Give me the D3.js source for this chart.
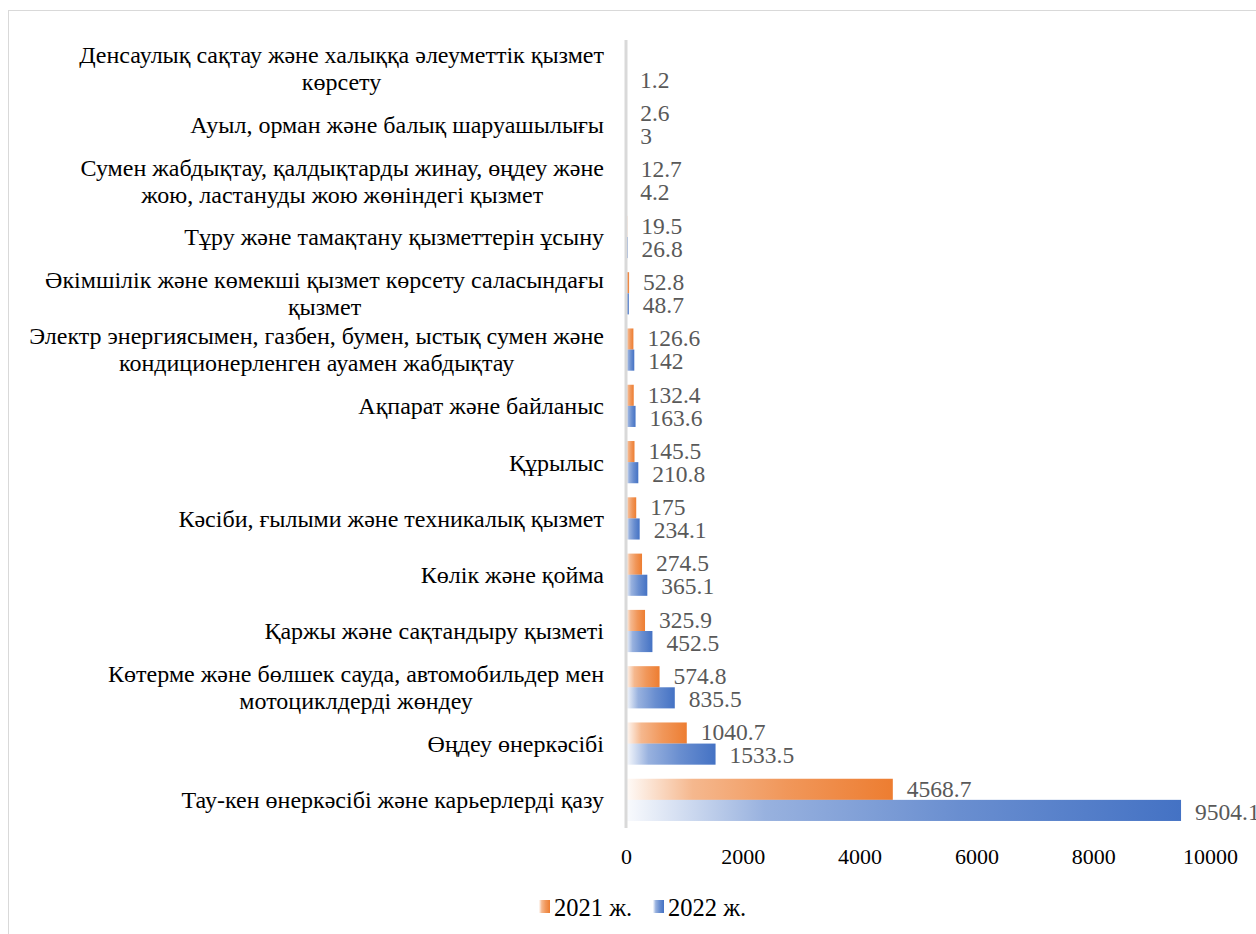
<!DOCTYPE html>
<html>
<head>
<meta charset="UTF-8" />
<title>Chart</title>
<style>
  body { margin: 0; background: #fff; }
</style>
</head>
<body>
<div class="chart"></div>
<script src="https://d3js.org/d3.v7.min.js"></script>
<script>
// categories, top to bottom ("\n" = line break in the label)
const categories = [
  'Денсаулық сақтау және халыққа әлеуметтік қызмет\nкөрсету',
  'Ауыл, орман және балық шаруашылығы',
  'Сумен жабдықтау, қалдықтарды жинау, өңдеу және\nжою, ластануды жою жөніндегі қызмет',
  'Тұру және тамақтану қызметтерін ұсыну',
  'Әкімшілік және көмекші қызмет көрсету саласындағы\nқызмет',
  'Электр энергиясымен, газбен, бумен, ыстық сумен және\nкондиционерленген ауамен жабдықтау',
  'Ақпарат және байланыс',
  'Құрылыс',
  'Кәсіби, ғылыми және техникалық қызмет',
  'Көлік және қойма',
  'Қаржы және сақтандыру қызметі',
  'Көтерме және бөлшек сауда, автомобильдер мен\nмотоциклдерді жөндеу',
  'Өңдеу өнеркәсібі',
  'Тау-кен өнеркәсібі және карьерлерді қазу'
]
const values2021 = [null, 2.6, 12.7, 19.5, 52.8, 126.6, 132.4, 145.5, 175, 274.5, 325.9, 574.8, 1040.7, 4568.7]
const values2022 = [1.2, 3, 4.2, 26.8, 48.7, 142, 163.6, 210.8, 234.1, 365.1, 452.5, 835.5, 1533.5, 9504.1]
const seriesNames = ['2021 ж.', '2022 ж.']
const xTicks = [0, 2000, 4000, 6000, 8000, 10000]

const width = 1256, height = 934
const colors = ['#ED7D31', '#4472C4']
const serif = 'Liberation Serif'

const svg = d3.select('.chart').append('svg')
  .attr('width', width).attr('height', height)
  .attr('font-family', serif)

// gradients like the office "light gradient" fill
const defs = svg.append('defs')
colors.forEach((c, i) => {
  const g = defs.append('linearGradient').attr('id', 'grad' + i)
    .attr('x1', '0%').attr('x2', '100%').attr('y1', '0%').attr('y2', '0%')
  g.append('stop').attr('offset', '0%').attr('stop-color', c).attr('stop-opacity', 0.03)
  g.append('stop').attr('offset', '25%').attr('stop-color', c).attr('stop-opacity', 0.55)
  g.append('stop').attr('offset', '60%').attr('stop-color', c).attr('stop-opacity', 0.8)
  g.append('stop').attr('offset', '100%').attr('stop-color', c).attr('stop-opacity', 1)
})

// outer frame
svg.append('rect')
  .attr('x', 8.5).attr('y', 10.5)
  .attr('width', 1270).attr('height', 940)
  .attr('fill', 'none').attr('stroke', '#d9d9d9')

const x = d3.scaleLinear().domain([0, 10000]).range([626, 1210])
const y = d3.scaleBand().domain(categories).range([40, 828])
  .paddingInner(0.25).paddingOuter(0.125)
const ySub = d3.scaleBand().domain([0, 1]).range([0, y.bandwidth()])

const data = categories.map((c, i) => ({ cat: c, vals: [values2021[i], values2022[i]] }))

const groups = svg.append('g').selectAll('g')
  .data(data).join('g')
  .attr('transform', d => `translate(0,${y(d.cat)})`)

groups.selectAll('rect')
  .data(d => d.vals.map((v, s) => ({ v, s })).filter(e => e.v != null))
  .join('rect')
  .attr('x', x(0))
  .attr('y', e => ySub(e.s))
  .attr('width', e => x(e.v) - x(0))
  .attr('height', ySub.bandwidth())
  .attr('fill', e => `url(#grad${e.s})`)

groups.selectAll('text.val')
  .data(d => d.vals.map((v, s) => ({ v, s })).filter(e => e.v != null))
  .join('text')
  .attr('class', 'val')
  .attr('x', e => x(e.v) + 14)
  .attr('y', e => ySub(e.s) + ySub.bandwidth() / 2 + (e.s === 0 ? -1 : 1))
  .attr('dy', '0.35em')
  .attr('fill', '#595959')
  .attr('font-family', serif)
  .attr('font-size', 23.5)
  .text(e => e.v)

// vertical axis line
svg.append('line')
  .attr('x1', x(0)).attr('x2', x(0))
  .attr('y1', 40).attr('y2', 828)
  .attr('stroke', '#d9d9d9').attr('stroke-width', 3)

// category labels: block right-aligned, lines centered inside
const labelRight = 604, lineH = 27
categories.forEach(c => {
  const lines = c.split('\n')
  const t = svg.append('text')
    .attr('fill', '#000')
    .attr('font-family', serif)
    .attr('font-size', 24)
    .attr('text-anchor', 'middle')
  const cy = y(c) + y.bandwidth() / 2
  lines.forEach((l, k) => {
    t.append('tspan')
      .attr('y', cy + (k - (lines.length - 1) / 2) * lineH)
      .attr('dy', '0.35em')
      .text(l)
  })
  let maxW = 0
  t.selectAll('tspan').each(function () { maxW = Math.max(maxW, this.getComputedTextLength()) })
  t.selectAll('tspan').attr('x', labelRight - maxW / 2)
})

// x axis tick labels
const xAxis = d3.axisBottom(x).tickValues(xTicks).tickFormat(d3.format('d'))
  .tickSize(0).tickPadding(0)
const ax = svg.append('g').attr('transform', 'translate(0,856)').call(xAxis)
ax.attr('font-family', serif).attr('font-size', 22)
ax.select('.domain').remove()
ax.selectAll('text')
  .attr('dy', '0.35em').attr('y', 0)
  .attr('fill', '#000')
  .attr('font-family', serif)

// legend
const legend = svg.append('g').attr('transform', 'translate(539,907)')
const legX = [0, 114]
seriesNames.forEach((n, i) => {
  const g = legend.append('g').attr('transform', `translate(${legX[i]},0)`)
  g.append('rect').attr('x', 0).attr('y', -7).attr('width', 11).attr('height', 13)
    .attr('fill', `url(#grad${i})`)
  g.append('text').attr('x', 15).attr('y', 0).attr('dy', '0.35em')
    .attr('fill', '#000').attr('font-family', serif).attr('font-size', 24.5).text(n)
})
</script>
</body>
</html>
